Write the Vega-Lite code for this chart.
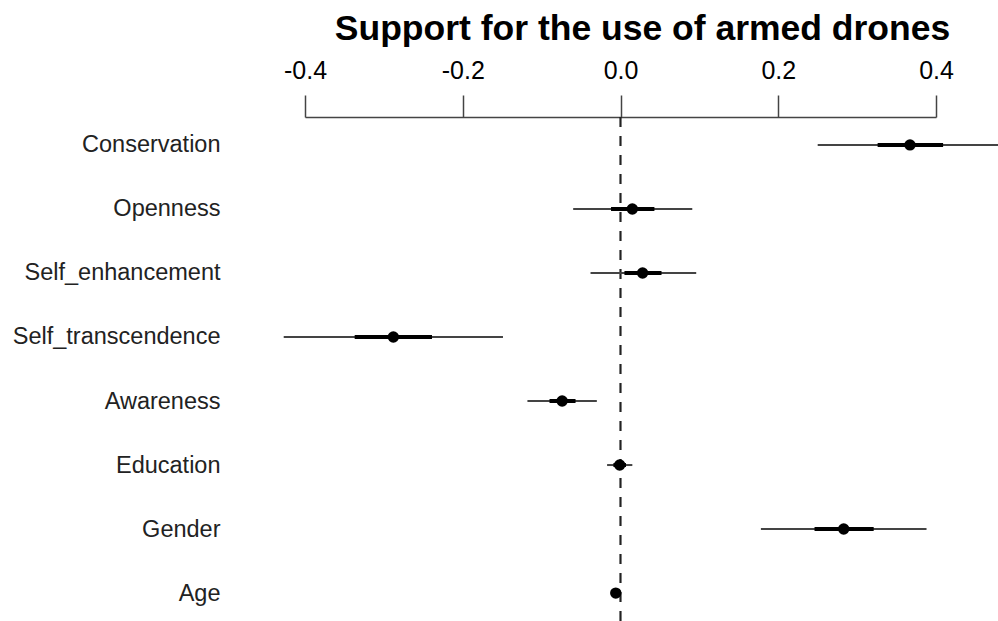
{
  "$schema": "https://vega.github.io/schema/vega-lite/v6.json",
  "width": 631,
  "height": 504,
  "autosize": {"type": "none"},
  "padding": {"left": 305, "top": 117, "right": 62, "bottom": 0},
  "background": "white",
  "config": {"view": {"stroke": null}, "font": "Liberation Sans"},
  "title": {"text": "Support for the use of armed drones", "fontSize": 35.5, "fontWeight": "bold", "color": "black", "anchor": "middle", "dx": 22, "offset": 11, "font": "Liberation Sans"},
  "data": {"values": [
    {"term": "Conservation", "est": 0.367, "lo1": 0.326, "hi1": 0.409, "lo2": 0.250, "hi2": 0.484},
    {"term": "Openness", "est": 0.015, "lo1": -0.012, "hi1": 0.043, "lo2": -0.060, "hi2": 0.091},
    {"term": "Self_enhancement", "est": 0.028, "lo1": 0.005, "hi1": 0.052, "lo2": -0.038, "hi2": 0.096},
    {"term": "Self_transcendence", "est": -0.288, "lo1": -0.337, "hi1": -0.239, "lo2": -0.427, "hi2": -0.149},
    {"term": "Awareness", "est": -0.074, "lo1": -0.090, "hi1": -0.057, "lo2": -0.118, "hi2": -0.030},
    {"term": "Education", "est": -0.001, "lo1": -0.009, "hi1": 0.007, "lo2": -0.017, "hi2": 0.015},
    {"term": "Gender", "est": 0.283, "lo1": 0.246, "hi1": 0.321, "lo2": 0.178, "hi2": 0.388},
    {"term": "Age", "est": -0.006, "lo1": -0.008, "hi1": -0.004, "lo2": -0.010, "hi2": -0.002}
  ]},
  "encoding": {
    "y": {"field": "term", "type": "nominal",
      "sort": ["Conservation", "Openness", "Self_enhancement", "Self_transcendence", "Awareness", "Education", "Gender", "Age"],
      "scale": {"type": "point", "padding": 0.436},
      "axis": {"title": null, "ticks": false, "domain": false, "labelPadding": 85, "labelFontSize": 23.5, "labelLimit": 400, "labelColor": "#222", "labelFont": "Liberation Sans"}}
  },
  "layer": [
    {"mark": {"type": "rule", "strokeDash": [10, 9], "color": "#222", "strokeWidth": 1.2},
     "encoding": {"x": {"datum": 0}, "y": null}},
    {"mark": {"type": "rule", "color": "#444", "strokeWidth": 2},
     "encoding": {
       "x": {"field": "lo2", "type": "quantitative",
         "scale": {"domain": [-0.4, 0.4], "nice": false, "zero": false},
         "axis": {"orient": "top", "title": null, "values": [-0.4, -0.2, 0, 0.2, 0.4], "grid": false,
           "labelFlush": false, "labelOverlap": false, "labelBound": false,
           "labelExpr": "datum.value == 0 ? '0.0' : (datum.value < 0 ? '-' + format(-datum.value, '.1f') : format(datum.value, '.1f'))",
           "labelFontSize": 25, "labelColor": "black", "labelFont": "Liberation Sans", "labelPadding": 12,
           "tickSize": 22, "tickColor": "#444", "tickWidth": 1.5, "domainColor": "#444", "domainWidth": 1.5}},
       "x2": {"field": "hi2"}}},
    {"mark": {"type": "rule", "color": "black", "strokeWidth": 4},
     "encoding": {"x": {"field": "lo1", "type": "quantitative"}, "x2": {"field": "hi1"}}},
    {"mark": {"type": "point", "filled": true, "color": "black", "opacity": 1, "size": 130},
     "encoding": {"x": {"field": "est", "type": "quantitative"}}}
  ]
}
